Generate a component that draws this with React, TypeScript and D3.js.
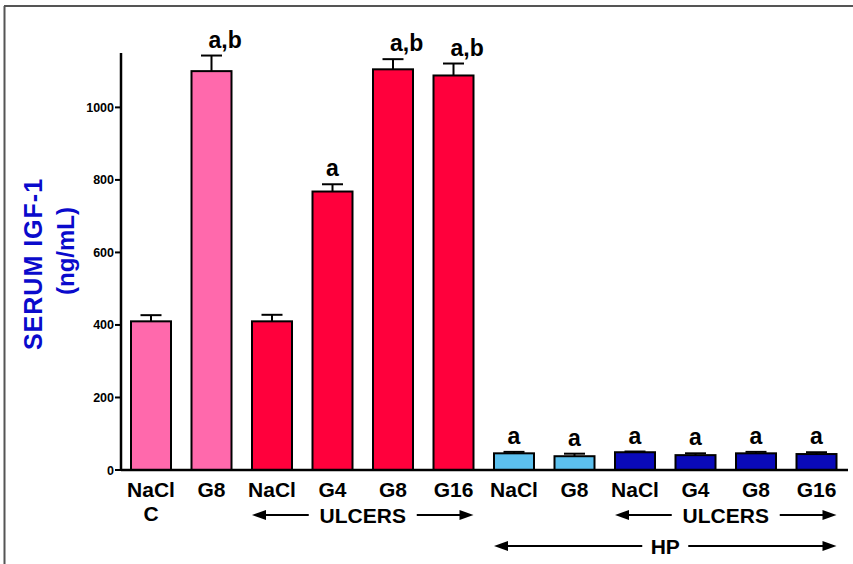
import React from "react";
import * as d3 from "d3";

const categories = ["NaCl", "G8", "NaCl", "G4", "G8", "G16", "NaCl", "G8", "NaCl", "G4", "G8", "G16"];
const means = [410, 1100, 410, 768, 1105, 1088, 46, 38, 49, 41, 46, 44];
const errors = [17, 43, 18, 20, 28, 33, 4, 7, 2, 5, 4, 5];
const annotations = ["", "a,b", "", "a", "a,b", "a,b", "a", "a", "a", "a", "a", "a"];
const barColors = ["#FF69AC", "#FF69AC", "#FF003C", "#FF003C", "#FF003C", "#FF003C", "#5CC0EE", "#5CC0EE", "#0A0AB8", "#0A0AB8", "#0A0AB8", "#0A0AB8"];
const yTicks = [0, 200, 400, 600, 800, 1000];
const brackets = [
  { label: "ULCERS", from: 2, to: 5, row: 0 },
  { label: "ULCERS", from: 8, to: 11, row: 0 },
  { label: "HP", from: 6, to: 11, row: 1 },
];

const W = 853;
const H = 564;
const FONT = "'Liberation Sans', Arial, sans-serif";

export default function App() {
  const idx = categories.map((_, i) => i);
  const x = d3.scalePoint<number>().domain(idx).range([151, 816.5]);
  const y = d3.scaleLinear().domain([0, 1150]).range([470, 53]);
  const bw = 40;
  const axisX = 121;

  const arrow = (x1: number, x2: number, yy: number, dir: number, key: string) => {
    const hx = dir < 0 ? x1 : x2;
    const s = dir < 0 ? 1 : -1;
    return (
      <g key={key}>
        <line x1={dir < 0 ? x1 + 10 : x1} x2={dir < 0 ? x2 : x2 - 10} y1={yy} y2={yy} stroke="#000" strokeWidth={2} />
        <path d={`M${hx},${yy} L${hx + s * 14},${yy - 5} L${hx + s * 14},${yy + 5} Z`} fill="#000" />
      </g>
    );
  };

  return (
    <svg width={W} height={H} style={{ position: "absolute", left: 0, top: 0, background: "#fff" }} fontFamily={FONT}>
      <rect x={0} y={0} width={W} height={H} fill="#fff" />
      <line x1={4} x2={W} y1={6} y2={6} stroke="#555" strokeWidth={2} />
      <line x1={4.5} x2={4.5} y1={6} y2={H} stroke="#555" strokeWidth={2} />

      {/* y label */}
      <g fill="#0A0ACC" fontWeight="bold" textAnchor="middle">
        <text transform="translate(42,264) rotate(-90)" fontSize={25} letterSpacing={1}>SERUM IGF-1</text>
        <text transform="translate(74,251) rotate(-90)" fontSize={24}>(ng/mL)</text>
      </g>

      {/* bars */}
      {idx.map((i) => {
        const cx = x(i)!;
        const top = y(means[i]);
        const et = y(means[i] + errors[i]);
        return (
          <g key={i}>
            <line x1={cx} x2={cx} y1={top} y2={et} stroke="#000" strokeWidth={2} />
            <line x1={cx - 10.5} x2={cx + 10.5} y1={et} y2={et} stroke="#000" strokeWidth={2} />
            <rect x={cx - bw / 2} y={top} width={bw} height={y(0) - top} fill={barColors[i]} stroke="#000" strokeWidth={2} />
            {annotations[i] && (
              <text
                x={annotations[i].length > 1 ? cx - 3 : cx}
                y={et - 8}
                textAnchor={annotations[i].length > 1 ? "start" : "middle"}
                fontWeight="bold"
                fontSize={23}
              >
                {annotations[i]}
              </text>
            )}
            <text x={cx} y={497} textAnchor="middle" fontWeight="bold" fontSize={21}>
              {categories[i]}
            </text>
          </g>
        );
      })}
      <text x={x(0)!} y={521} textAnchor="middle" fontWeight="bold" fontSize={21}>C</text>

      {/* axes */}
      <line x1={axisX} x2={axisX} y1={53} y2={471} stroke="#000" strokeWidth={2.5} />
      <line x1={axisX} x2={848} y1={470} y2={470} stroke="#000" strokeWidth={2.5} />
      {yTicks.map((t) => (
        <g key={t}>
          <line x1={axisX - 6} x2={axisX} y1={y(t)} y2={y(t)} stroke="#000" strokeWidth={2} />
          <text x={axisX - 7} y={y(t) + 4.5} textAnchor="end" fontWeight="bold" fontSize={12.5}>
            {t}
          </text>
        </g>
      ))}

      {/* brackets */}
      {brackets.map((b, k) => {
        const x1 = x(b.from)! - bw / 2;
        const x2 = x(b.to)! + bw / 2;
        const yy = b.row === 0 ? 515 : 546;
        const cx = (x1 + x2) / 2;
        const half = b.label === "HP" ? 23 : 54;
        return (
          <g key={k}>
            {arrow(x1, cx - half, yy, -1, "l")}
            {arrow(cx + half, x2, yy, 1, "r")}
            <text x={cx} y={yy + 7.5} textAnchor="middle" fontWeight="bold" fontSize={21}>
              {b.label}
            </text>
          </g>
        );
      })}
    </svg>
  );
}
